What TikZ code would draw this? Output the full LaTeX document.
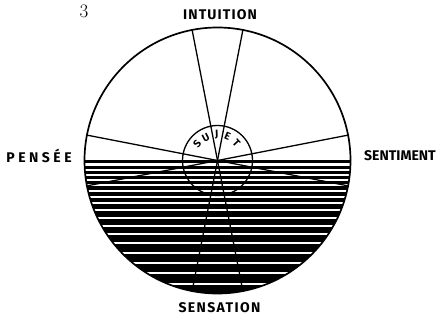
\documentclass[tikz,border=0pt]{standalone}
\usepackage{fontspec}
\newfontfamily\labfont{Fira Sans}
\usetikzlibrary{calc}
\begin{document}
\begin{tikzpicture}[x=1pt,y=1pt,
  lab/.style={font=\labfont\bfseries\fontsize{14}{14}\selectfont, inner sep=0pt},
  sujet/.style={font=\labfont\bfseries\fontsize{10.5}{10.5}\selectfont, inner sep=0pt},
  outline/.style={line width=1.7pt},
  ray/.style={line width=1.3pt}]
\useasboundingbox (0,0) rectangle (442,321);
\coordinate (C) at (217.5,160.5);
% hatching of the lower half
\begin{scope}
\clip (C) circle (133);
\foreach \y/\h in {160.5/3, 166/2.8, 171/3, 176/3.2, 181/3.5, 186.5/3.8, 192/4, 198/4.5, 204.5/5, 211.5/5.6, 219/6, 227/6.5, 235.5/7, 244.5/7.5, 254/8, 264/8.5, 274.5/9, 285/12}
  \fill[black] (80,{321-\y}) rectangle (360,{321-\y-\h});
\end{scope}
\draw[outline] (C) circle (133);
% rays
\foreach \n/\a in {a/101, b/79, c/169, d/11}{
  \coordinate (\n1) at ($(C)+(\a:133)$);
  \coordinate (\n2) at ($(C)+(\a+180:133)$);
  \draw[ray] (\n1) -- (\n2);
}
\draw[ray] (C) circle (35);
% SUJET
\foreach \l/\a [count=\i] in {S/141, U/117, J/92, E/67, T/43}
  \node[sujet, rotate=\a-90] (s\i) at ($(C)+(\a:26)$) {\l};
% labels
\node[lab, font=\labfont\bfseries\fontsize{14}{14}\selectfont\addfontfeatures{LetterSpace=8}] (int) at (220,306) {INTUITION};
\node[lab, font=\labfont\bfseries\fontsize{14}{14}\selectfont\addfontfeatures{LetterSpace=10}] (sen) at (219.5,13) {SENSATION};
\node[lab, font=\labfont\bfseries\fontsize{14}{14}\selectfont\addfontfeatures{LetterSpace=25}] (pen) at (39,165) {PENSÉE};
\node[lab] (sent) at (400,165) {SENTIMENT};
\node[font=\fontsize{19}{19}\selectfont, inner sep=0pt] (num) at (84,310) {3};
\end{tikzpicture}
\end{document}
